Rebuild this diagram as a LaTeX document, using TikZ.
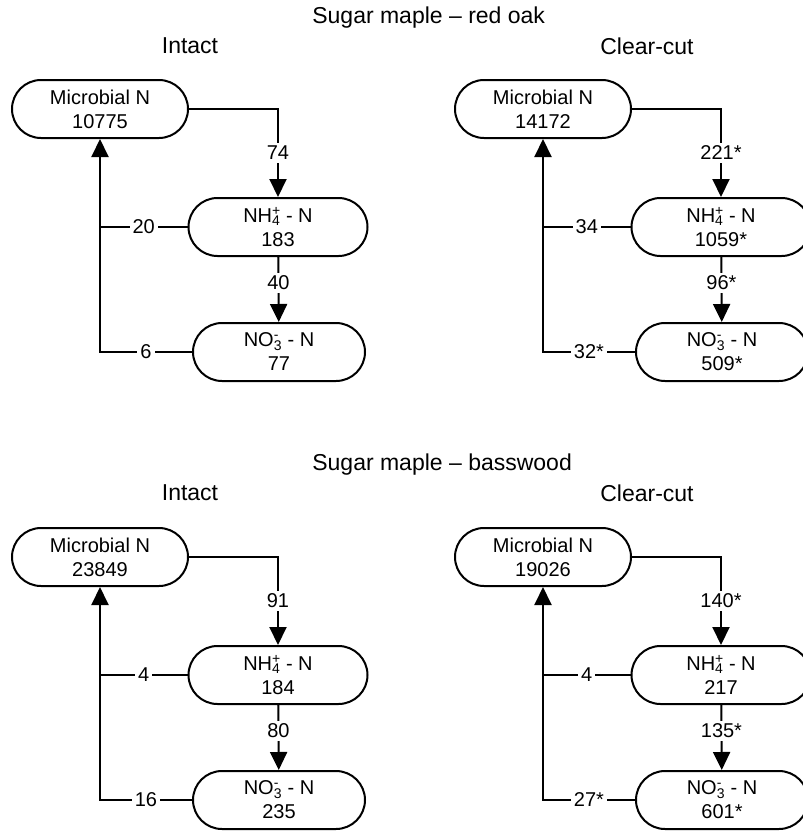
\documentclass[tikz,border=0pt]{standalone}
\usepackage{fontspec}
\setmainfont{Liberation Sans}
\usetikzlibrary{arrows.meta,shapes.misc,positioning}
\tikzset{
  pool/.style={draw,rounded rectangle,minimum width=176pt,minimum height=58pt,inner sep=0pt,align=center,font=\fontsize{20}{24}\selectfont},
  flux/.style={midway,fill=white,inner sep=3pt,font=\fontsize{20}{24}\selectfont},
  heading/.style={font=\fontsize{23}{27}\selectfont}
}
\newcommand{\ammonium}{NH\rlap{\textsuperscript{+}}\textsubscript{4} - N}
\newcommand{\nitrate}{NO\rlap{\textsuperscript{-}}\textsubscript{3} - N}
\begin{document}
\begin{tikzpicture}[x=1pt,y=-1pt,>={Triangle[width=17pt,length=18pt]},line width=2pt]
  \useasboundingbox (0,0) rectangle (803,833);
  % one panel per stand and treatment
  \foreach \p/\x/\y/\mic/\amm/\nit/\fa/\fb/\fc/\fd in {%
      1/100/109/10775/183/77/74/40/20/6,
      2/543/109/14172/1059*/509*/221*/96*/34/32*,
      3/100/557/23849/184/235/91/80/4/16,
      4/543/557/19026/217/601*/140*/135*/4/27*}{
    \begin{scope}[shift={(\x,\y)}]
      \node[pool] (m\p) at (0,0) {Microbial N\\\mic};
      \node[pool,minimum width=179pt] (a\p) at (178,118) {\ammonium\\\amm};
      \node[pool,minimum width=172pt] (n\p) at (179,243) {\nitrate\\\nit};
      \draw[->] (m\p.east) -| (a\p.north) node[flux,pos=0.75]{\fa};
      \draw[->] (a\p) -- (n\p) node[flux,pos=0.4]{\fb};
      \draw (a\p.west) -- node[flux]{\fc} (0,118);
      \draw[->] (n\p.west) -- node[flux]{\fd} (0,243) -- (m\p.south);
    \end{scope}
  }
  \node[heading,anchor=west] (t1) at (308,18) {Sugar maple – red oak};
  \node[heading] (i1) at (190,46) {Intact};
  \node[heading] (c1) at (647,46) {Clear-cut};
  \node[heading,anchor=west] (t2) at (308,465) {Sugar maple – basswood};
  \node[heading] (i2) at (190,493) {Intact};
  \node[heading] (c2) at (647,493) {Clear-cut};
\end{tikzpicture}
\end{document}
